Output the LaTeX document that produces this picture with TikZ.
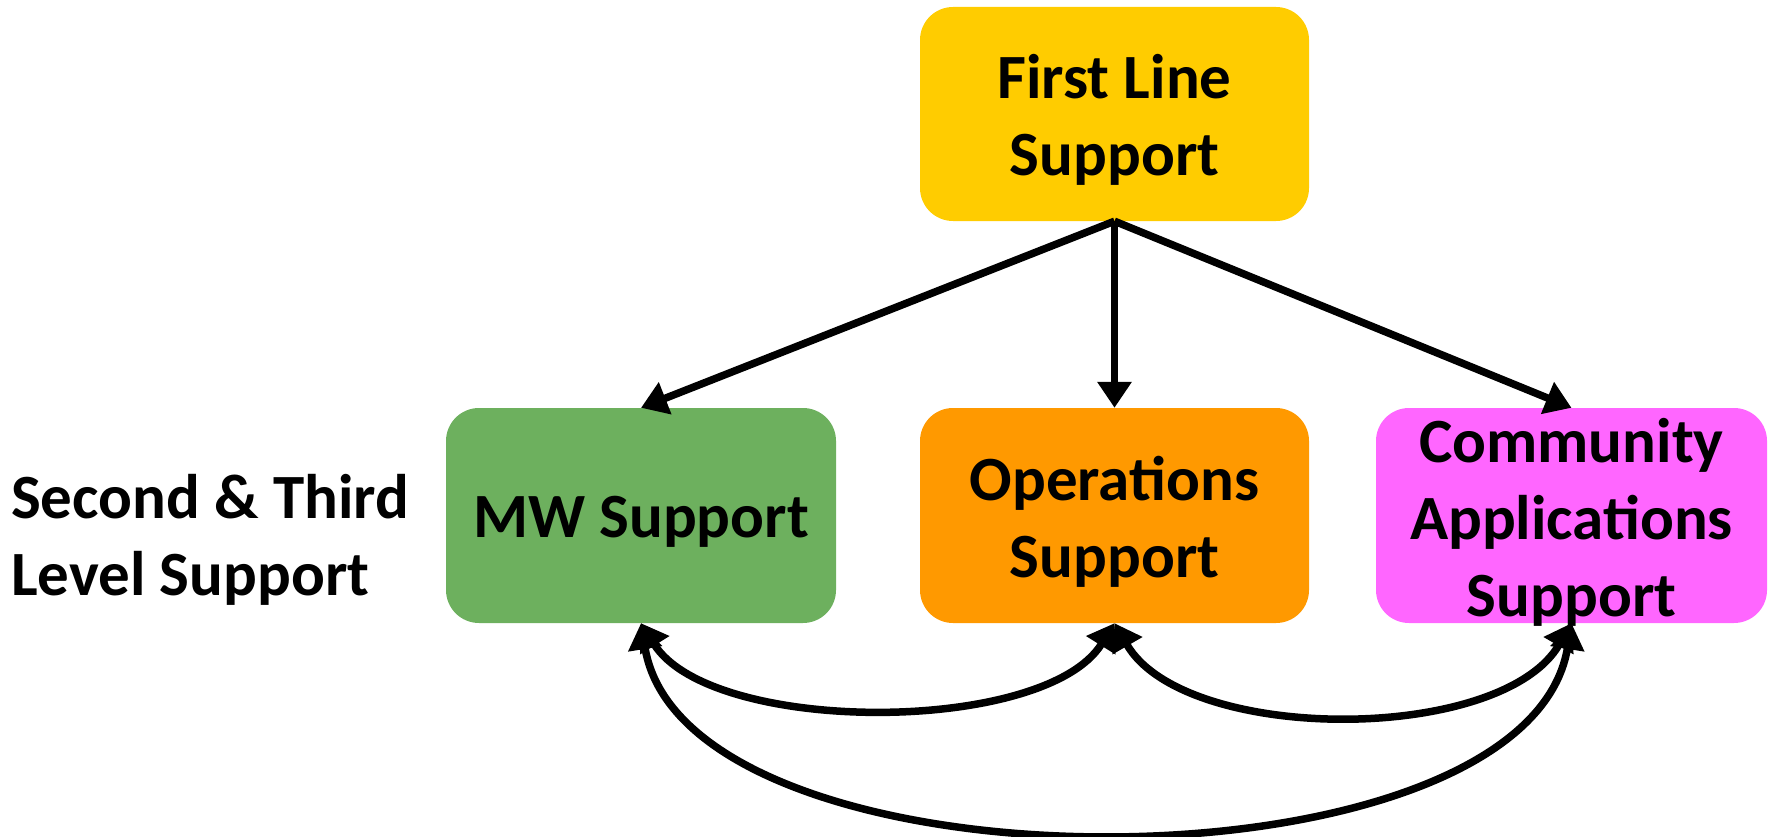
\documentclass[tikz,border=0pt]{standalone}
\usepackage{fontspec}
\setmainfont{Carlito}
\usetikzlibrary{arrows.meta}
\definecolor{firstcol}{HTML}{FFCC00}
\definecolor{mwcol}{HTML}{6DB05E}
\definecolor{opscol}{HTML}{FF9900}
\definecolor{commcol}{HTML}{FF66FF}
\tikzset{
  box/.style={rounded corners=33pt, inner sep=0pt, minimum height=215pt},
  boxtext/.style={inner sep=0pt, align=center, font=\fontsize{63}{77}\selectfont\bfseries},
  link/.style={line width=7.5pt, -{Triangle[width=33pt,length=26pt]}},
  twoway/.style={line width=7.5pt, {Triangle[width=33pt,length=26pt]}-{Triangle[width=33pt,length=26pt]}},
}
\begin{document}
\begin{tikzpicture}[x=1pt,y=-1pt]
\useasboundingbox (0,0) rectangle (1776,837);

% boxes
\node[box, fill=firstcol, minimum width=389pt, minimum height=214pt] (first) at (1114.5,114) {};
\node[box, fill=mwcol, minimum width=390pt] (mw) at (641,515.5) {};
\node[box, fill=opscol, minimum width=389pt] (ops) at (1114.5,515.5) {};
\node[box, fill=commcol, minimum width=391pt] (comm) at (1571.5,515.5) {};

% box texts, set slightly below the geometric centre
\node[boxtext] (firsttext) at ([yshift=-6pt]first.center) {First Line\\Support};
\node[boxtext] (mwtext) at ([yshift=-6pt]mw.center) {MW Support};
\node[boxtext] (opstext) at ([yshift=-6pt]ops.center) {Operations\\Support};
\node[boxtext] (commtext) at ([yshift=-7pt]comm.center) {Community\\Applications\\Support};

\node[boxtext, anchor=west, align=left] (level) at (11,540) {Second \& Third\\Level Support};

% first line to the second/third level teams
\draw[link] (first.south) -- (mw.north);
\draw[link] (first.south) -- (ops.north);
\draw[link] (first.south) -- (comm.north);

% exchanges between the teams
\draw[twoway] (mw.south) .. controls +(70,112) and +(-70,112) .. (ops.south);
\draw[twoway] (ops.south) .. controls +(70,121) and +(-70,121) .. (comm.south);
\draw[twoway] (mw.south) .. controls +(45,277) and +(-45,277) .. (comm.south);
\end{tikzpicture}
\end{document}
